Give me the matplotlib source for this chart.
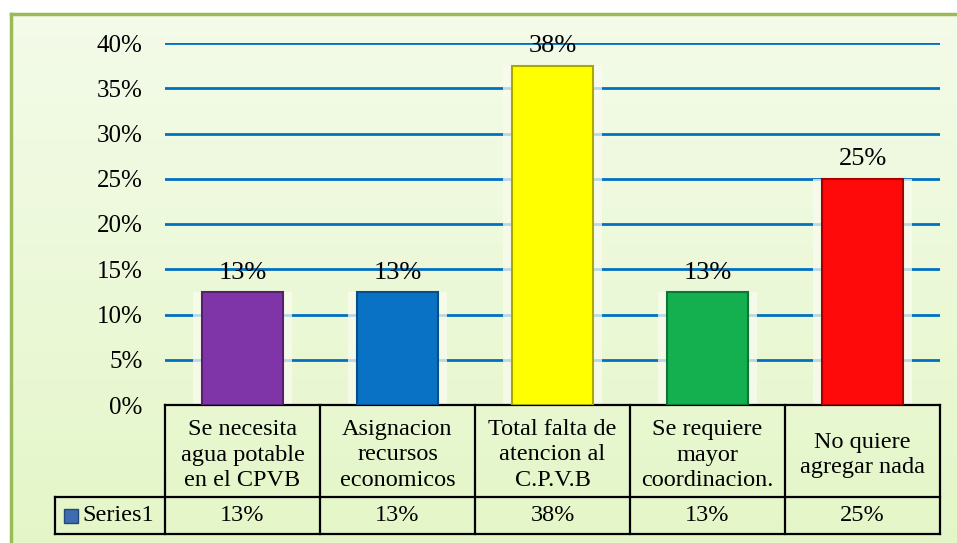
import numpy as np
import matplotlib.pyplot as plt
from matplotlib.transforms import blended_transform_factory

plt.rcParams['font.family'] = ['Liberation Serif', 'DejaVu Serif']

categories = ['Se necesita\nagua potable\nen el CPVB',
              'Asignacion\nrecursos\neconomicos',
              'Total falta de\natencion al\nC.P.V.B',
              'Se requiere\nmayor\ncoordinacion.',
              'No quiere\nagregar nada']
values = [0.125, 0.125, 0.375, 0.125, 0.25]
value_labels = ['13%', '13%', '38%', '13%', '25%']
series_name = 'Series1'
yticks = [0.0, 0.05, 0.10, 0.15, 0.20, 0.25, 0.30, 0.35, 0.40]
ytick_labels = ['0%', '5%', '10%', '15%', '20%', '25%', '30%', '35%', '40%']

bar_colors = ['#7F35A8', '#0A72C4', '#FFFF00', '#14B050', '#FF0A0A']
edge_colors = ['#55206F', '#054E8A', '#A8A800', '#0B7536', '#A80000']

W, H = 957, 543
fig = plt.figure(figsize=(W / 100, H / 100), dpi=100)

# background frame with light green gradient
bg = fig.add_axes([11 / W, -0.02, 1.0, 1 - 14 / H + 0.02])
grad = np.linspace(0, 1, 256).reshape(-1, 1)
top = np.array([0.955, 0.985, 0.915])
bot = np.array([0.895, 0.965, 0.780])
img = top + (bot - top) * grad[:, :, None]
bg.imshow(img, aspect='auto', extent=[0, 1, 0, 1], origin='upper')
bg.set_xticks([])
bg.set_yticks([])
for s in bg.spines.values():
    s.set_color('#9BBB59')
    s.set_linewidth(2.5)

ax = fig.add_axes([165 / W, 1 - 405 / H, 775 / W, 362 / H])
ax.patch.set_visible(False)
x = np.arange(len(values))
ax.set_xlim(-0.5, len(values) - 0.5)
ax.set_ylim(0, 0.40)
for s in ax.spines.values():
    s.set_visible(False)
ax.set_xticks([])
ax.set_yticks(yticks)
ax.set_yticklabels(ytick_labels)
ax.tick_params(axis='y', length=0, pad=16, labelsize=18)
ax.set_axisbelow(True)
ax.yaxis.grid(True, color='#0070C0', linewidth=2)

# soft glow behind bars
ax.bar(x, values, width=0.64, color='#FAFBEF', alpha=0.75, zorder=2)
ax.bar(x, values, width=0.52, color=bar_colors, edgecolor=edge_colors,
       linewidth=1.5, zorder=3)

for xi, v, lab in zip(x, values, value_labels):
    ax.annotate(lab, (xi, v), xytext=(0, 6), textcoords='offset points',
                ha='center', va='bottom', fontsize=19, zorder=4)

# data table below the plot
tr = blended_transform_factory(ax.transData, ax.transAxes)
y_top, y_mid, y_bot = 0.0, -92 / 362, -129 / 362
x_left = -0.5 - 110 / 155
lk = dict(color='black', linewidth=1.6, transform=tr, clip_on=False)
ax.plot([-0.5, 4.5], [y_top, y_top], **lk)
ax.plot([x_left, 4.5], [y_mid, y_mid], **lk)
ax.plot([x_left, 4.5], [y_bot, y_bot], **lk)
ax.plot([x_left, x_left], [y_mid, y_bot], **lk)
for xe in np.arange(-0.5, 5.0, 1.0):
    ax.plot([xe, xe], [y_top, y_bot], **lk)

for xi, cat, lab in zip(x, categories, value_labels):
    ax.text(xi, -50 / 362, cat, transform=tr, ha='center',
            va='center', fontsize=17.5, linespacing=1.3)
    ax.text(xi, (y_mid + y_bot) / 2, lab, transform=tr, ha='center',
            va='center', fontsize=17.5)

ax.plot([-0.5 - 94.5 / 155], [(y_mid + y_bot) / 2], marker='s',
        markersize=10.5, color='#3D6DAE', markeredgecolor='#24487A',
        transform=tr, clip_on=False)
ax.text(-0.5 - 83 / 155, (y_mid + y_bot) / 2, series_name, transform=tr,
        ha='left', va='center', fontsize=17.5)

fig.savefig('out.png', dpi=100)
